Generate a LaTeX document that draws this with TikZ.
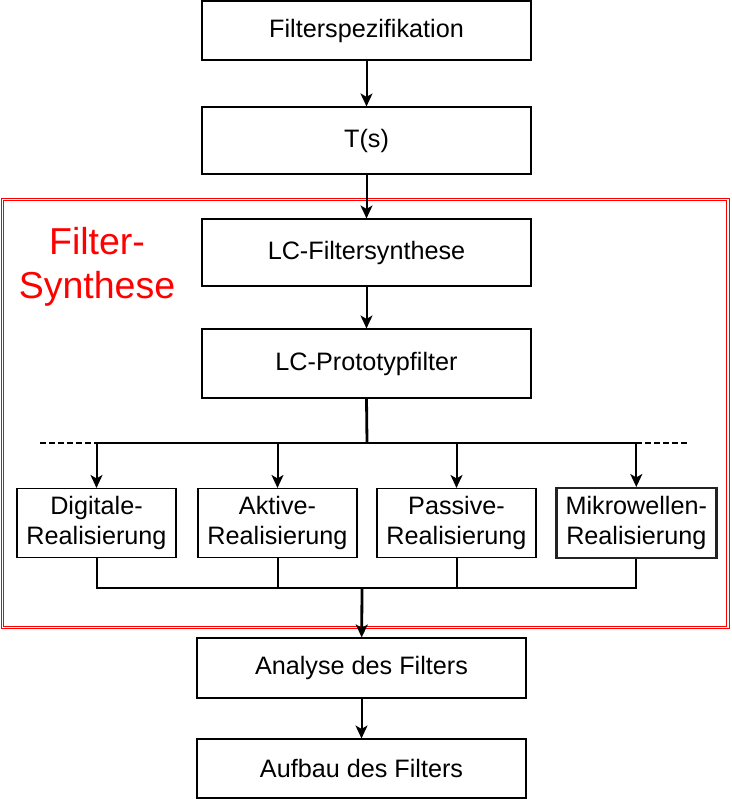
\documentclass[tikz,border=0pt]{standalone}
\usepackage{fontspec}
\setmainfont{Liberation Sans}
\usetikzlibrary{arrows.meta}
\definecolor{rframe}{HTML}{FF0000}
\definecolor{mikdraw}{HTML}{222222}
\tikzset{
  box/.style={draw=black, line width=1.1pt, rectangle, inner sep=0pt, align=center, font=\fontsize{25.2}{30.5}\selectfont},
  bigbox/.style={box, minimum width=329pt},
  smallbox/.style={box, minimum width=159pt, minimum height=69pt},
  conn/.style={draw=black, line width=2pt},
  arr/.style={conn, -{Stealth[length=13pt,width=12pt,inset=3.5pt]}},
  dashpat/.style={conn, dash pattern=on 5.5pt off 3.5pt},
}
\begin{document}
\begin{tikzpicture}[x=1pt,y=-1pt]
\useasboundingbox (0,0) rectangle (731,799);
\fill[white] (0,0) rectangle (731,799);
% red frame
\draw[rframe, double=white, double distance=1.6pt, line width=1.1pt] (2.5,199.5) rectangle (728,627.5);
\node[text=rframe, align=center, font=\fontsize{37.5}{44}\selectfont] (title) at (97,267) {Filter-\\Synthese};
% boxes
\node[bigbox, minimum height=59pt] (spec) at (366.5,30.5) {Filterspezifikation};
\node[bigbox, minimum height=67pt] (ts) at (366.5,140.5) {T(s)};
\node[bigbox, minimum height=67pt] (syn) at (366.5,252.5) {LC-Filtersynthese};
\node[bigbox, minimum height=69pt] (proto) at (366.5,363.5) {LC-Prototypfilter};
\node[smallbox] (dig) at (96.5,523) {Digitale-\\Realisierung};
\node[smallbox] (akt) at (277.5,523) {Aktive-\\Realisierung};
\node[smallbox] (pas) at (456.5,523) {Passive-\\Realisierung};
\node[smallbox, draw=mikdraw, line width=2.4pt, minimum width=160pt, minimum height=70pt] (mik) at (636.3,523.2) {Mikrowellen-\\Realisierung};
\node[bigbox, minimum height=60pt] (ana) at (361.5,668) {Analyse des Filters};
\node[bigbox, minimum height=59pt] (auf) at (361.5,768.5) {Aufbau des Filters};
% coordinates
\coordinate (jt) at (367,443);
\coordinate (jb) at (362,588);
\coordinate (dl) at (40,443);
\coordinate (dr) at (690,443);
% top chain
\draw[arr] (spec) -- (ts);
\draw[arr] (ts) -- (syn);
\draw[arr] (syn) -- (proto);
\draw[conn, line width=2.8pt] (proto.south) -- (jt);
% distribution bus
\draw[arr] (jt) -| (dig.north);
\draw[arr] (jt) -| (akt.north);
\draw[arr] (jt) -| (pas.north);
\draw[arr] (jt) -| (mik.north);
\draw[dashpat] (dl) -- (dig.north |- jt);
\draw[dashpat] (mik.north |- jt) -- (dr);
% collecting bus
\draw[conn] (dig.south) |- (jb);
\draw[conn] (akt.south) |- (jb);
\draw[conn] (pas.south) |- (jb);
\draw[conn] (mik.south) |- (jb);
\draw[arr, line width=2.8pt] (jb) -- (ana);
\draw[arr] (ana) -- (auf);
\end{tikzpicture}
\end{document}
